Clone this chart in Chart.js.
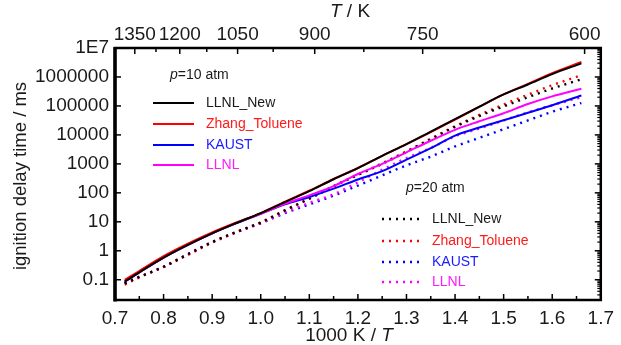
<!DOCTYPE html>
<html>
<head>
<meta charset="utf-8">
<script src="https://cdn.jsdelivr.net/npm/chart.js@4.4.1/dist/chart.umd.min.js"></script>
<style>
  html, body { margin: 0; padding: 0; background: #fff; }
  #wrap { width: 621px; height: 345px; position: relative; }
</style>
</head>
<body>
<div id="wrap"><canvas id="c" width="621" height="345"></canvas></div>
<script>
// 1000 K / T values shared by all curves
var invT = [0.72, 0.75, 0.8, 0.85, 0.9, 0.95, 1.0, 1.05, 1.1, 1.15, 1.2, 1.25, 1.3, 1.35, 1.4, 1.45, 1.5, 1.55, 1.6, 1.66];

// ignition delay time / ms, p = 10 atm (solid)
var llnlNew10 = [0.085, 0.18, 0.58, 1.6, 4.0, 9.1, 20, 48, 115, 295, 710, 1900, 4800, 13000, 35000, 95000, 250000, 550000, 1260000, 2950000];
var zhang10   = [0.1, 0.2, 0.65, 1.75, 4.3, 9.5, 20, 50, 120, 300, 720, 1900, 4800, 12500, 34000, 93000, 250000, 580000, 1350000, 3300000];
var kaust10   = [0.088, 0.18, 0.58, 1.6, 4.0, 9.0, 19, 40, 72, 140, 290, 560, 1400, 3500, 9500, 18000, 32000, 58000, 105000, 230000];
var llnl10    = [0.088, 0.18, 0.58, 1.6, 4.0, 9.0, 19, 42, 82, 170, 447, 1000, 2500, 6300, 15000, 29500, 56000, 117000, 214000, 390000];

// ignition delay time / ms, p = 20 atm (dotted)
var llnlNew20 = [0.075, 0.125, 0.28, 0.76, 2.0, 4.5, 9.5, 25, 63, 170, 417, 1000, 2600, 7100, 19000, 44700, 97000, 200000, 400000, 830000];
var zhang20   = [0.068, 0.12, 0.28, 0.72, 1.9, 4.4, 9.5, 25, 63, 170, 420, 1050, 2700, 7400, 20000, 49000, 112000, 245000, 520000, 1150000];
var kaust20   = [0.075, 0.125, 0.28, 0.76, 2.0, 4.4, 8.9, 20, 40, 80, 178, 400, 890, 1780, 4000, 7900, 15800, 31600, 63000, 126000];
var llnl20    = [0.075, 0.125, 0.28, 0.76, 2.0, 4.4, 9.0, 21, 45, 89, 230, 630, 1580, 3550, 8900, 16600, 31600, 60000, 105000, 200000];

var seriesNames = ["LLNL_New", "Zhang_Toluene", "KAUST", "LLNL"];
var seriesColors = ["#000000", "#ff0000", "#0000ff", "#ff00ff"];
var textColors = ["#1a1a1a", "#ff1a1a", "#1a1aff", "#ff1aff"];

// tick labels
var xTicks = [0.7, 0.8, 0.9, 1.0, 1.1, 1.2, 1.3, 1.4, 1.5, 1.6, 1.7];
var yTicks = [0.1, 1, 10, 100, 1000, 10000, 100000, 1000000, 10000000];
var yTickLabels = ["0.1", "1", "10", "100", "1000", "10000", "100000", "1000000", "1E7"];
var topTemps = [1350, 1200, 1050, 900, 750, 600];
var topMinorTemps = [1275, 1125, 975, 825, 675];

var FONT = "'Liberation Sans', Arial, sans-serif";
var TICKSIZE = 19;

function pts(ys){
	var out = [];
	for(var i = 0; i < invT.length; i++){
		out.push({x: invT[i], y: ys[i]});
	}
	return out;
}

function makeSet(name, ys, idx, dotted, order){
	return {
		label: name + (dotted ? " (20 atm)" : " (10 atm)"),
		data: pts(ys),
		borderColor: seriesColors[idx],
		borderWidth: dotted ? 2.4 : 2,
		borderDash: dotted ? [2, 5] : [],
		pointRadius: 0,
		cubicInterpolationMode: 'monotone',
		fill: false,
		order: order
	};
}

var datasets = [
	makeSet("LLNL_New", llnlNew10, 0, false, 0),
	makeSet("Zhang_Toluene", zhang10, 1, false, 1),
	makeSet("KAUST", kaust10, 2, false, 3),
	makeSet("LLNL", llnl10, 3, false, 2),
	makeSet("LLNL_New", llnlNew20, 0, true, 4),
	makeSet("Zhang_Toluene", zhang20, 1, true, 5),
	makeSet("KAUST", kaust20, 2, true, 7),
	makeSet("LLNL", llnl20, 3, true, 6)
];

/*draw a run of text pieces, some italic*/
function drawParts(ctx, parts, x, y, size, color, align){
	var total = 0;
	var i;
	for(i = 0; i < parts.length; i++){
		ctx.font = (parts[i][1] ? "italic " : "") + size + "px " + FONT;
		total += ctx.measureText(parts[i][0]).width;
	}
	var cx = x;
	if(align == "center"){ cx = x - total / 2; }
	ctx.fillStyle = color;
	ctx.textAlign = "left";
	ctx.textBaseline = "middle";
	for(i = 0; i < parts.length; i++){
		ctx.font = (parts[i][1] ? "italic " : "") + size + "px " + FONT;
		ctx.fillText(parts[i][0], cx, y);
		cx += ctx.measureText(parts[i][0]).width;
	}
}

var decorPlugin = {
	id: 'decor',
	afterDraw: function(chart){
		var ctx = chart.ctx;
		var a = chart.chartArea;
		var sx = chart.scales.x, sy = chart.scales.y;
		var i, k, px, py;
		ctx.save();
		ctx.strokeStyle = "#000";
		ctx.lineCap = "butt";

		// bottom ticks (inward)
		ctx.lineWidth = 1.5;
		for(i = 0; i <= 20; i++){
			px = sx.getPixelForValue(0.7 + i * 0.05);
			var len = (i % 2 == 0) ? 6 : 4;
			ctx.beginPath(); ctx.moveTo(px, a.bottom); ctx.lineTo(px, a.bottom - len); ctx.stroke();
		}
		// top ticks (inward)
		for(i = 0; i < topTemps.length; i++){
			px = sx.getPixelForValue(1000 / topTemps[i]);
			ctx.beginPath(); ctx.moveTo(px, a.top); ctx.lineTo(px, a.top + 6); ctx.stroke();
		}
		for(i = 0; i < topMinorTemps.length; i++){
			px = sx.getPixelForValue(1000 / topMinorTemps[i]);
			ctx.beginPath(); ctx.moveTo(px, a.top); ctx.lineTo(px, a.top + 4); ctx.stroke();
		}
		// left / right ticks
		for(i = 0; i < yTicks.length; i++){
			py = sy.getPixelForValue(yTicks[i]);
			ctx.beginPath(); ctx.moveTo(a.left, py); ctx.lineTo(a.left + 6, py); ctx.stroke();
			ctx.beginPath(); ctx.moveTo(a.right, py); ctx.lineTo(a.right - 6, py); ctx.stroke();
		}
		ctx.lineWidth = 1.2;
		for(i = -2; i < 7; i++){
			for(k = 2; k <= 9; k++){
				var v = k * Math.pow(10, i);
				if(v < sy.min || v > sy.max){ continue; }
				py = sy.getPixelForValue(v);
				ctx.beginPath(); ctx.moveTo(a.right, py); ctx.lineTo(a.right - 3.5, py); ctx.stroke();
			}
		}

		// frame
		ctx.lineWidth = 2.5;
		ctx.strokeRect(a.left, a.top, a.right - a.left, a.bottom - a.top);
		ctx.lineWidth = 3.5;
		ctx.beginPath(); ctx.moveTo(a.left, a.top - 1); ctx.lineTo(a.left, a.bottom + 1.5); ctx.stroke();

		// axis titles
		drawParts(ctx, [["1000 K / ", false], ["T", true]], 349, 336, 19, "#1a1a1a", "center");
		drawParts(ctx, [["T", true], [" / K", false]], 350, 12, 19, "#1a1a1a", "center");
		ctx.save();
		ctx.translate(21, 176);
		ctx.rotate(-Math.PI / 2);
		drawParts(ctx, [["ignition delay time / ms", false]], 0, 0, 18.5, "#1a1a1a", "center");
		ctx.restore();

		// legends
		drawParts(ctx, [["p", true], ["=10 atm", false]], 170, 75, 14, "#1a1a1a", "left");
		drawParts(ctx, [["p", true], ["=20 atm", false]], 406, 188, 14, "#1a1a1a", "left");
		var ys1 = [103, 124, 145, 165];
		var ys2 = [219, 241, 262, 282];
		for(i = 0; i < 4; i++){
			var dsSolid = chart.data.datasets[i];
			var dsDot = chart.data.datasets[i + 4];
			ctx.strokeStyle = dsSolid.borderColor;
			ctx.lineWidth = dsSolid.borderWidth;
			ctx.setLineDash([]);
			ctx.beginPath(); ctx.moveTo(153, ys1[i]); ctx.lineTo(194, ys1[i]); ctx.stroke();
			drawParts(ctx, [[seriesNames[i], false]], 206, ys1[i], 14, textColors[i], "left");

			ctx.strokeStyle = dsDot.borderColor;
			ctx.lineWidth = dsDot.borderWidth;
			ctx.setLineDash(dsDot.borderDash);
			ctx.beginPath(); ctx.moveTo(382, ys2[i]); ctx.lineTo(421, ys2[i]); ctx.stroke();
			ctx.setLineDash([]);
			drawParts(ctx, [[seriesNames[i], false]], 432, ys2[i], 14, textColors[i], "left");
		}
		ctx.restore();
	}
};

var tickFont = { family: FONT, size: TICKSIZE };

new Chart(document.getElementById("c"), {
	type: 'line',
	data: { datasets: datasets },
	options: {
		responsive: false,
		animation: false,
		devicePixelRatio: 1,
		layout: { padding: 0 },
		plugins: { legend: { display: false }, tooltip: { enabled: false }, title: { display: false } },
		scales: {
			x: {
				type: 'linear', position: 'bottom', min: 0.7, max: 1.7,
				grid: { display: false, drawTicks: false }, border: { display: false },
				afterBuildTicks: function(s){ s.ticks = xTicks.map(function(v){ return {value: v}; }); },
				ticks: { font: tickFont, color: "#1a1a1a", padding: 7, maxRotation: 0, autoSkip: false,
					callback: function(v){ return Number(v).toFixed(1); } },
				afterFit: function(s){ s.height = 45; }
			},
			x2: {
				type: 'linear', position: 'top', min: 0.7, max: 1.7,
				grid: { display: false, drawTicks: false }, border: { display: false },
				afterBuildTicks: function(s){ s.ticks = topTemps.map(function(t){ return {value: 1000 / t}; }); },
				ticks: { font: tickFont, color: "#1a1a1a", padding: 2, maxRotation: 0, autoSkip: false,
					callback: function(v){ return String(Math.round(1000 / v)); } },
				afterFit: function(s){ s.height = 48; }
			},
			y: {
				type: 'logarithmic', position: 'left', min: 0.02, max: 1e7,
				grid: { display: false, drawTicks: false }, border: { display: false },
				afterBuildTicks: function(s){ s.ticks = yTicks.map(function(v){ return {value: v}; }); },
				ticks: { font: tickFont, color: "#1a1a1a", padding: 6, autoSkip: false,
					callback: function(v){ var i = yTicks.indexOf(v); return i >= 0 ? yTickLabels[i] : ""; } },
				afterFit: function(s){ s.width = 115; }
			},
			y2: {
				type: 'logarithmic', position: 'right', min: 0.02, max: 1e7,
				grid: { display: false, drawTicks: false }, border: { display: false },
				ticks: { display: false },
				afterFit: function(s){ s.width = 18; }
			}
		}
	},
	plugins: [decorPlugin]
});
</script>
</body>
</html>
